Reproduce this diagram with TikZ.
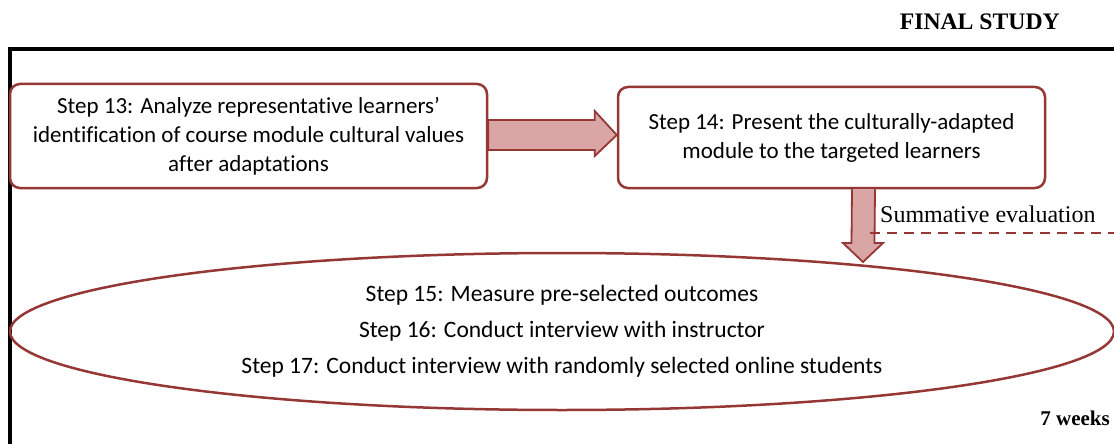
\documentclass[tikz,border=0pt]{standalone}
\usepackage{fontspec}
\setmainfont{Liberation Serif}
\newfontfamily\stepfont[Ligatures=NoCommon]{Carlito}
\usetikzlibrary{calc,shapes.geometric}
\definecolor{boxred}{RGB}{149,55,53}
\definecolor{arrowfill}{RGB}{217,166,165}
\tikzset{
  stepbox/.style={draw=boxred, line width=2.5pt, rounded corners=10pt, fill=white,
    align=center, inner sep=0pt, font=\stepfont\fontsize{23}{29}\selectfont},
  ovalbox/.style={draw=boxred, line width=2.5pt, ellipse, inner sep=0pt, align=center,
    font=\stepfont\fontsize{23.5}{36}\selectfont},
  blockarrow/.style={draw=boxred, line width=1.8pt, fill=arrowfill, line join=miter},
  framebar/.style={line width=4pt, black},
  caption/.style={font=\fontsize{24}{26}\selectfont, inner sep=0pt},
}
\begin{document}
\begin{tikzpicture}[x=1pt,y=-1pt]
\useasboundingbox (0,0) rectangle (1114,444);
\clip (0,0) rectangle (1114,444);

% open frame: top rule and left rule
\coordinate (fbl) at (10,446);
\coordinate (ftl) at (10,49);
\coordinate (ftr) at (1116,49);
\draw[framebar] (fbl) -- (ftl) -- (ftr);

\node[caption, font=\bfseries\fontsize{23.7}{26}\selectfont, anchor=base east] (title) at (1060,30) {FINAL STUDY};

% step boxes
\node[stepbox, minimum width=477pt, minimum height=104pt] (s13) at (248.5,136)
  {Step 13: Analyze representative learners’\\identification of course module cultural values\\after adaptations};
\node[stepbox, minimum width=427pt, minimum height=101pt] (s14) at (831.5,137.5)
  {Step 14: Present the culturally-adapted\\module to the targeted learners};

% evaluation ellipse
\node[ovalbox, minimum width=1104pt, minimum height=157pt] (s15) at (562,331.5)
  {Step 15: Measure pre-selected outcomes\\Step 16: Conduct interview with instructor\\Step 17: Conduct interview with randomly selected online students};

% block arrow from step 13 to step 14
\coordinate (h0) at ($(s13.east)+(0,-1)$);
\coordinate (h1) at ($(s14.west)+(0,-2.5)$);
\draw[blockarrow] ($(h0)+(0,-15)$) -- ($(h1)+(-22,-15)$) -- ($(h1)+(-22,-24)$) -- (h1)
  -- ($(h1)+(-22,21)$) -- ($(h1)+(-22,15)$) -- ($(h0)+(0,15)$) -- cycle;

% block arrow from step 14 down to the ellipse
\coordinate (v0) at ($(s14.south)+(32,0)$);
\coordinate (v1) at (863,262);
\draw[blockarrow] ($(v0)+(-11.5,0)$) -- ($(v1)+(-11.5,-19)$) -- ($(v1)+(-20,-19)$) -- (v1)
  -- ($(v1)+(20,-19)$) -- ($(v1)+(11.5,-19)$) -- ($(v0)+(11.5,0)$);

% summative evaluation marker
\node[caption, anchor=base west] (sumlbl) at (880,222) {Summative evaluation};
\coordinate (d0) at (870,233);
\coordinate (d1) at (1114,233);
\draw[boxred, line width=2pt, dash pattern=on 10pt off 7pt] (d0) -- (d1);

\node[caption, font=\bfseries\fontsize{21}{24}\selectfont, anchor=base east] (dur) at (1110,425) {7 weeks};
\end{tikzpicture}
\end{document}
